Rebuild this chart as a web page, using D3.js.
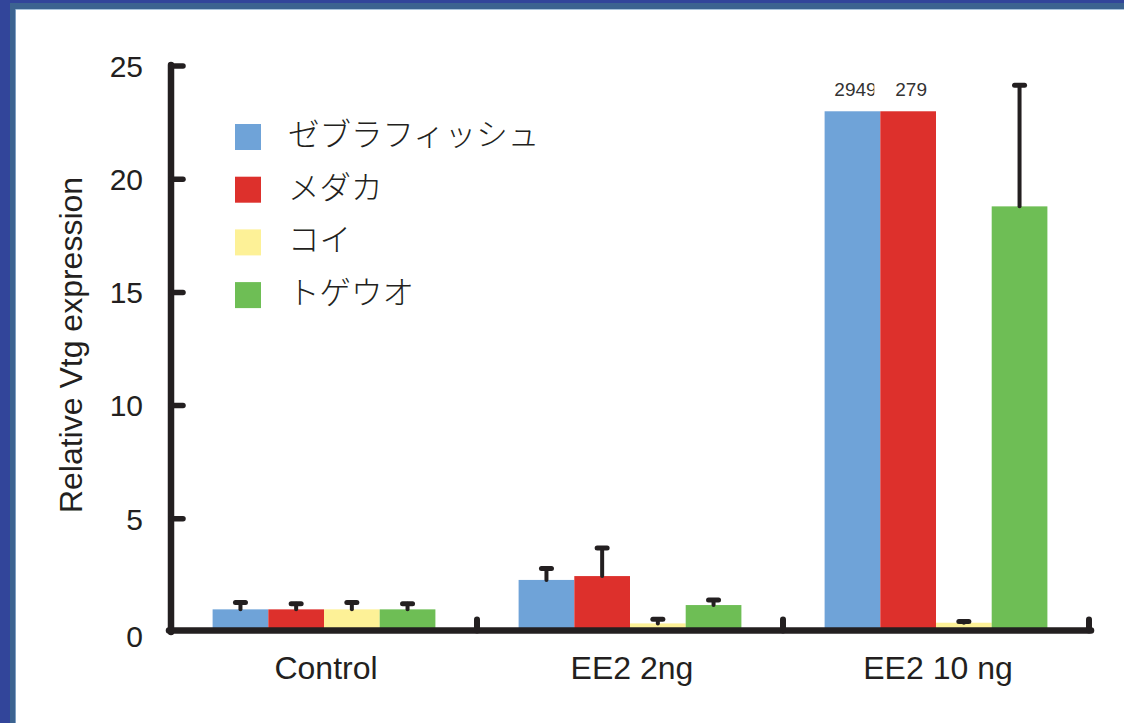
<!DOCTYPE html>
<html>
<head>
<meta charset="utf-8">
<script src="https://cdn.jsdelivr.net/npm/d3@7"></script>
<style>
  html, body { margin: 0; padding: 0; background: #fff; }
  svg { display: block; }
</style>
</head>
<body>
<svg id="chart" width="1124" height="723"></svg>
<script>
// Treatment groups along the x axis
const categories = ["Control", "EE2 2ng", "EE2 10 ng"];
// Fish species (one bar per species in each group)
const species = ["ゼブラフィッシュ", "メダカ", "コイ", "トゲウオ"];
const colors = ["#6fa3d8", "#dd302c", "#fdf197", "#6ebe55"];

// Relative Vtg expression per species, in category order
const zebrafish   = [1.0, 2.30, 2949];
const medaka      = [1.0, 2.47, 279];
const carp        = [1.0, 0.38, 0.41];
const stickleback = [1.0, 1.19, 18.8];

// Upper error (SD) per species; null = no error bar shown
const zebrafishErr   = [0.30, 0.51, null];
const medakaErr      = [0.25, 1.24, null];
const carpErr        = [0.30, 0.18, 0.05];
const sticklebackErr = [0.25, 0.22, 5.35];

// Y axis ticks
const yTicks = [0, 5, 10, 15, 20, 25];
// Bars above this value are cut off and labelled with their value
const breakValue = 23;

const values = [zebrafish, medaka, carp, stickleback];
const errors = [zebrafishErr, medakaErr, carpErr, sticklebackErr];

const svg = d3.select("#chart");
const W = 1124, H = 723;
const ink = "#231f20";

// Frame: dark blue band on the left and top edges
svg.append("rect").attr("x", 0).attr("y", 0).attr("width", W).attr("height", H).attr("fill", "#fff");
svg.append("rect").attr("x", 0).attr("y", 0).attr("width", 16).attr("height", H).attr("fill", "#3c6390");
svg.append("rect").attr("x", 0).attr("y", 0).attr("width", W).attr("height", 9).attr("fill", "#3c6390");
svg.append("rect").attr("x", 0).attr("y", 0).attr("width", 10).attr("height", H).attr("fill", "#32459a");
svg.append("rect").attr("x", 0).attr("y", 0).attr("width", W).attr("height", 3).attr("fill", "#32459a");
svg.append("line").attr("x1", 16).attr("x2", W).attr("y1", 9.5).attr("y2", 9.5)
  .attr("stroke", "#a9c4dc").attr("stroke-width", 1);
svg.append("line").attr("x1", 15.5).attr("x2", 15.5).attr("y1", 9).attr("y2", H)
  .attr("stroke", "#7f9fc2").attr("stroke-width", 1);

// Scales
const x0 = 171, x1 = 1089;
const y = d3.scaleLinear().domain([0, 25]).range([632, 66]);
const x = d3.scaleBand().domain(categories).range([x0, x1]).padding(0);
const xs = d3.scaleBand().domain(d3.range(species.length))
  .range([0, x.bandwidth()]).paddingInner(0).paddingOuter(0.747);

// Flatten to bar records
const bars = [];
categories.forEach((c, ci) => {
  species.forEach((s, si) => {
    bars.push({ c, ci, si, v: values[si][ci], e: errors[si][ci] });
  });
});

// Bars
const gBars = svg.append("g");
gBars.selectAll("rect").data(bars).join("rect")
  .attr("x", d => x(d.c) + xs(d.si))
  .attr("width", xs.bandwidth())
  .attr("y", d => y(Math.min(d.v, breakValue)))
  .attr("height", d => y(0) - y(Math.min(d.v, breakValue)))
  .attr("fill", d => colors[d.si]);

// Error bars (upper only)
const errBars = bars.filter(d => d.e != null && d.v <= breakValue);
const gErr = svg.append("g").attr("stroke", ink).attr("stroke-linecap", "round");
gErr.selectAll("line.stem").data(errBars).join("line").attr("class", "stem")
  .attr("x1", d => x(d.c) + xs(d.si) + xs.bandwidth() / 2)
  .attr("x2", d => x(d.c) + xs(d.si) + xs.bandwidth() / 2)
  .attr("y1", d => y(d.v))
  .attr("y2", d => y(d.v + d.e))
  .attr("stroke-width", 4);
gErr.selectAll("line.cap").data(errBars).join("line").attr("class", "cap")
  .attr("x1", d => x(d.c) + xs(d.si) + xs.bandwidth() / 2 - 5)
  .attr("x2", d => x(d.c) + xs(d.si) + xs.bandwidth() / 2 + 5)
  .attr("y1", d => y(d.v + d.e))
  .attr("y2", d => y(d.v + d.e))
  .attr("stroke-width", 5);

// Value labels for bars cut at the break
const overflow = bars.filter(d => d.v > breakValue);
const defs = svg.append("defs");
overflow.forEach((d, i) => {
  defs.append("clipPath").attr("id", "lbl" + i).append("rect")
    .attr("x", x(d.c) + xs(d.si))
    .attr("width", xs.bandwidth() - 6)
    .attr("y", 0).attr("height", y(breakValue));
});
svg.append("g").selectAll("text").data(overflow).join("text")
  .attr("clip-path", (d, i) => `url(#lbl${i})`)
  .attr("x", d => x(d.c) + xs(d.si) + xs.bandwidth() / 2 + 3)
  .attr("y", y(breakValue) - 15)
  .attr("text-anchor", "middle")
  .attr("font-family", "Liberation Sans, Arial, sans-serif")
  .attr("font-size", 19)
  .attr("fill", "#333")
  .text(d => d.v);

// Y axis
const gY = svg.append("g").attr("stroke", ink).attr("stroke-linecap", "round");
gY.append("line").attr("x1", x0).attr("x2", x0).attr("y1", y(25) - 1).attr("y2", y(0))
  .attr("stroke-width", 6.5);
gY.selectAll("line.tick").data(yTicks.filter(t => t > 0)).join("line").attr("class", "tick")
  .attr("x1", x0).attr("x2", x0 + 12)
  .attr("y1", d => y(d)).attr("y2", d => y(d))
  .attr("stroke-width", 5.5);
svg.append("g").selectAll("text").data(yTicks).join("text")
  .attr("x", 143)
  .attr("y", d => y(d) + (d === 0 ? 4 : 0))
  .attr("dy", "0.36em")
  .attr("text-anchor", "end")
  .attr("font-family", "Liberation Sans, Arial, sans-serif")
  .attr("font-size", 30)
  .attr("fill", ink)
  .text(d => d);

// X axis with separators between groups
const gX = svg.append("g").attr("stroke", ink).attr("stroke-linecap", "round");
const axisY = y(0) - 1.5;
gX.append("line").attr("x1", x0 - 2).attr("x2", x1 + 2).attr("y1", axisY).attr("y2", axisY)
  .attr("stroke-width", 6.5);
gX.selectAll("line.sep").data(categories).join("line").attr("class", "sep")
  .attr("x1", d => x(d) + x.bandwidth()).attr("x2", d => x(d) + x.bandwidth())
  .attr("y1", axisY).attr("y2", axisY - 11)
  .attr("stroke-width", 6);
svg.append("g").selectAll("text").data(categories).join("text")
  .attr("x", d => x(d) + x.bandwidth() / 2 + 2)
  .attr("y", 679)
  .attr("text-anchor", "middle")
  .attr("font-family", "Liberation Sans, Arial, sans-serif")
  .attr("font-size", 32)
  .attr("fill", ink)
  .text(d => d);

// Y axis title
svg.append("text")
  .attr("transform", `translate(82,345) rotate(-90)`)
  .attr("text-anchor", "middle")
  .attr("font-family", "Liberation Sans, Arial, sans-serif")
  .attr("font-size", 32)
  .attr("fill", ink)
  .text("Relative Vtg expression");

// Legend
const legend = svg.append("g").attr("transform", "translate(235,124)");
const item = legend.selectAll("g").data(species).join("g")
  .attr("transform", (d, i) => `translate(0,${i * 52.7})`);
item.append("rect").attr("width", 26).attr("height", 26).attr("fill", (d, i) => colors[i]);
item.append("text")
  .attr("x", 53).attr("y", 11)
  .attr("dy", "0.35em")
  .attr("font-family", "'Noto Sans CJK JP', sans-serif")
  .attr("font-weight", 300)
  .attr("font-size", 31.5)
  .attr("fill", ink)
  .text(d => d);
</script>
</body>
</html>
